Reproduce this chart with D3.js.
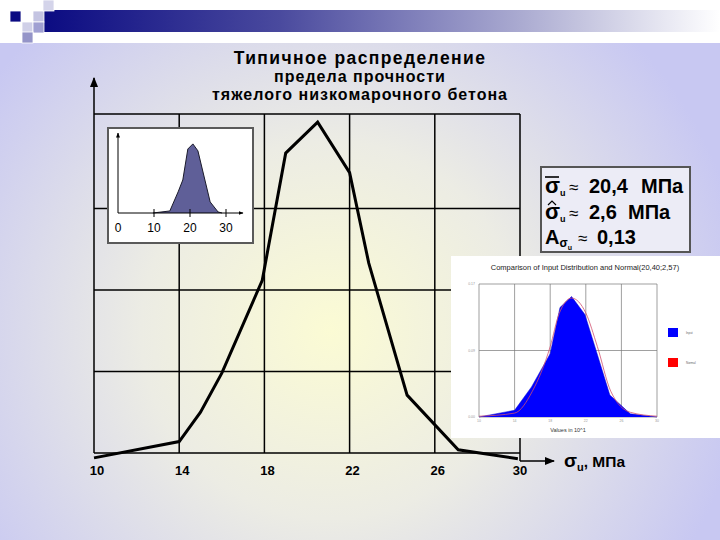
<!DOCTYPE html>
<html><head><meta charset="utf-8">
<script src="https://cdn.jsdelivr.net/npm/d3@7"></script>
<style>html,body{margin:0;padding:0;background:#fff;}svg{display:block;}</style>
</head><body>
<svg id="c" width="720" height="540"></svg>
<script>
// ---- data ----
const titleLines = ["Типичное распределение", "предела прочности", "тяжелого низкомарочного бетона"];
const xTicks = [10, 14, 18, 22, 26, 30];
const yGrid = [0, 1, 2, 3, 4.16];
const mainX = [10, 14, 15, 16, 17.9, 19, 20.5, 22, 22.9, 24.7, 27.1, 29.9];
const mainY = [-0.06, 0.14, 0.5, 0.98, 2.12, 3.68, 4.06, 3.44, 2.33, 0.71, 0.04, -0.07];
const insetTicks = [0, 10, 20, 30];
const insetX = [9.7, 14.4, 16.7, 18, 19.4, 20.8, 22.2, 25.6, 27.8, 28.9];
const insetY = [0, 0.12, 1.24, 1.94, 3.76, 4.06, 3.65, 0.65, 0.06, 0];
const shotTitle = "Comparison of Input Distribution and Normal(20,40;2,57)";
const shotXTicks = ["10", "14", "18", "22", "26", "30"];
const shotYTicks = [0, 0.085, 0.17];
const shotYLabels = ["0.00", "0.09", "0.17"];
const inputX = [10, 14, 15.9, 18, 19.1, 20.4, 21.9, 23.2, 24.7, 27, 30];
const inputY = [0, 0.0086, 0.0385, 0.081, 0.14, 0.154, 0.131, 0.0835, 0.028, 0.004, 0];
const normalX = [10, 14, 16, 18, 19, 20.4, 22, 23.3, 24.8, 27, 30];
const normalY = [0.001, 0.005, 0.033, 0.09, 0.132, 0.152, 0.133, 0.09, 0.033, 0.006, 0.001];
const legendItems = ["Input", "Normal"];
const legendColors = ["#0000ff", "#ff0000"];
const stats = ["20,4", "2,6", "0,13"];

const svg = d3.select("#c");
const defs = svg.append("defs");
const FONT = "Liberation Sans, Arial, sans-serif";

// ---- slide background ----
const rg = defs.append("radialGradient").attr("id", "bg").attr("gradientUnits", "userSpaceOnUse")
  .attr("cx", 330).attr("cy", 330).attr("r", 420);
rg.append("stop").attr("offset", "0").attr("stop-color", "#fbfbd4");
rg.append("stop").attr("offset", "0.45").attr("stop-color", "#ececе4".replace("е","e"));
rg.append("stop").attr("offset", "1").attr("stop-color", "#c8c8f2");
svg.append("rect").attr("x", 0).attr("y", 0).attr("width", 720).attr("height", 540).attr("fill", "#fff");
svg.append("rect").attr("x", 0).attr("y", 43).attr("width", 720).attr("height", 497).attr("fill", "url(#bg)");

const lg = defs.append("linearGradient").attr("id", "bar").attr("x1", 0).attr("x2", 1).attr("y1", 0).attr("y2", 0);
lg.append("stop").attr("offset", "0").attr("stop-color", "#0b0b82");
lg.append("stop").attr("offset", "0.35").attr("stop-color", "#4a4a9e");
lg.append("stop").attr("offset", "0.7").attr("stop-color", "#a9a9d0");
lg.append("stop").attr("offset", "1").attr("stop-color", "#ffffff");
svg.append("rect").attr("x", 43).attr("y", 10).attr("width", 677).attr("height", 22).attr("fill", "url(#bar)");
const squares = [
  {x: 10, y: 11, c: "#0b0b82"}, {x: 33, y: 11, c: "#c4c4e2"}, {x: 43, y: 0, c: "#d4d4ea"},
  {x: 22, y: 22, c: "#d0d0e8"}, {x: 33, y: 22, c: "#a0a0d2"}, {x: 22, y: 32, c: "#9494c8"}
];
svg.selectAll("rect.sq").data(squares).enter().append("rect").attr("class", "sq")
  .attr("x", d => d.x).attr("y", d => d.y).attr("width", 11).attr("height", 11)
  .attr("fill", d => d.c).attr("stroke", "#ffffff").attr("stroke-width", 0.8);

// ---- title ----
const tsz = [17.5, 16, 16], ty = [64, 82, 100], tls = [1.4, 1, 1];
svg.selectAll("text.title").data(titleLines).enter().append("text").attr("class", "title")
  .attr("x", 360).attr("y", (d, i) => ty[i]).attr("text-anchor", "middle")
  .attr("font-family", FONT).attr("font-weight", "bold").attr("font-size", (d, i) => tsz[i])
  .attr("letter-spacing", (d, i) => tls[i])
  .attr("fill", "#000").text(d => d);

// ---- main chart ----
const x = d3.scaleLinear().domain([10, 30]).range([94, 520]);
const y = d3.scaleLinear().domain([0, 4.16]).range([453, 114]);

defs.append("marker").attr("id", "arr").attr("viewBox", "0 0 10 10").attr("refX", 9).attr("refY", 5)
  .attr("markerWidth", 7).attr("markerHeight", 7).attr("orient", "auto-start-reverse")
  .append("path").attr("d", "M0,1 L10,5 L0,9 z").attr("fill", "#000");

const g = svg.append("g");
g.selectAll("line.vg").data(xTicks).enter().append("line").attr("class", "vg")
  .attr("x1", d => x(d)).attr("x2", d => x(d)).attr("y1", y(4.16)).attr("y2", y(0))
  .attr("stroke", "#000").attr("stroke-width", 1.5);
g.selectAll("line.hg").data(yGrid).enter().append("line").attr("class", "hg")
  .attr("x1", x(10)).attr("x2", x(30)).attr("y1", d => y(d)).attr("y2", d => y(d))
  .attr("stroke", "#000").attr("stroke-width", 1.5);
g.append("line").attr("x1", x(10)).attr("x2", x(10)).attr("y1", y(4.16)).attr("y2", 78)
  .attr("stroke", "#000").attr("stroke-width", 1.5).attr("marker-end", "url(#arr)");
g.append("line").attr("x1", x(30)).attr("x2", x(30)).attr("y1", y(0)).attr("y2", 461)
  .attr("stroke", "#000").attr("stroke-width", 1.5);
g.append("line").attr("x1", x(30)).attr("x2", 554).attr("y1", 461).attr("y2", 461)
  .attr("stroke", "#000").attr("stroke-width", 1.5).attr("marker-end", "url(#arr)");

g.selectAll("text.xl").data(xTicks).enter().append("text").attr("class", "xl")
  .attr("x", (d, i) => x(d) + (i === xTicks.length - 1 ? 0 : 3)).attr("y", 475).attr("text-anchor", "middle")
  .attr("font-family", FONT).attr("font-weight", "bold").attr("font-size", 13).text(d => d);

const mainPts = mainX.map((v, i) => [v, mainY[i]]);
g.append("path").datum(mainPts)
  .attr("d", d3.line().x(d => x(d[0])).y(d => y(d[1])))
  .attr("fill", "none").attr("stroke", "#000").attr("stroke-width", 3).attr("stroke-linejoin", "miter");

const al = svg.append("text").attr("x", 564).attr("y", 467).attr("font-family", FONT).attr("font-weight", "bold");
al.append("tspan").attr("font-size", 19).text("σ");
al.append("tspan").attr("font-size", 11).attr("dy", 4).text("u");
al.append("tspan").attr("font-size", 15.5).attr("dy", -4).text(", МПа");

// ---- inset 1 ----
const ix = d3.scaleLinear().domain([0, 30]).range([118, 226]);
const iy = d3.scaleLinear().domain([0, 4.7]).range([213, 133]);
svg.append("rect").attr("x", 108).attr("y", 128).attr("width", 145).attr("height", 115)
  .attr("fill", "#fff").attr("stroke", "#5a5a5a").attr("stroke-width", 2);
defs.append("marker").attr("id", "arr2").attr("viewBox", "0 0 10 10").attr("refX", 9).attr("refY", 5)
  .attr("markerWidth", 5).attr("markerHeight", 5).attr("orient", "auto")
  .append("path").attr("d", "M0,1 L10,5 L0,9 z").attr("fill", "#000");
const inPts = insetX.map((v, i) => [v, insetY[i]]);
svg.append("path").datum(inPts)
  .attr("d", d3.line().x(d => ix(d[0])).y(d => iy(d[1])))
  .attr("fill", "#5f5f98").attr("stroke", "#1a1a2a").attr("stroke-width", 1);
svg.append("line").attr("x1", ix(0)).attr("x2", ix(0)).attr("y1", iy(0)).attr("y2", 133)
  .attr("stroke", "#000").attr("stroke-width", 1).attr("marker-end", "url(#arr2)");
svg.append("line").attr("x1", ix(0)).attr("x2", 243).attr("y1", iy(0)).attr("y2", iy(0))
  .attr("stroke", "#000").attr("stroke-width", 1).attr("marker-end", "url(#arr2)");
svg.selectAll("line.it").data(insetTicks.slice(1)).enter().append("line").attr("class", "it")
  .attr("x1", d => ix(d)).attr("x2", d => ix(d)).attr("y1", iy(0) - 4).attr("y2", iy(0) + 4)
  .attr("stroke", "#000").attr("stroke-width", 1);
svg.selectAll("text.il").data(insetTicks).enter().append("text").attr("class", "il")
  .attr("x", d => ix(d)).attr("y", 232).attr("text-anchor", "middle")
  .attr("font-family", FONT).attr("font-size", 12).text(d => d);

// ---- stats box ----
svg.append("rect").attr("x", 541).attr("y", 167).attr("width", 149).attr("height", 85)
  .attr("fill", "#ececf6").attr("stroke", "#555").attr("stroke-width", 2);
const rowY = [193, 219, 244];
const sg = svg.append("g").attr("font-family", FONT).attr("font-weight", "bold");
function sigmaRow(row, val, mx) {
  const yy = rowY[row];
  const t = sg.append("text").attr("x", 545).attr("y", yy);
  t.append("tspan").attr("font-size", 22).text("σ");
  t.append("tspan").attr("font-size", 9).attr("dy", 3).text("u");
  sg.append("text").attr("x", 569).attr("y", yy).attr("font-size", 17).attr("font-weight", "normal").text("≈");
  sg.append("text").attr("x", 589).attr("y", yy).attr("font-size", 20).text(val);
  sg.append("text").attr("x", mx).attr("y", yy).attr("font-size", 20).text("МПа");
}
sigmaRow(0, stats[0], 641);
sg.append("line").attr("x1", 545).attr("x2", 559).attr("y1", rowY[0] - 16).attr("y2", rowY[0] - 16)
  .attr("stroke", "#000").attr("stroke-width", 1.6);
sigmaRow(1, stats[1], 628);
sg.append("path").attr("d", `M548,${rowY[1] - 14} L552,${rowY[1] - 18} L556,${rowY[1] - 14}`)
  .attr("fill", "none").attr("stroke", "#000").attr("stroke-width", 1.2);
const t3 = sg.append("text").attr("x", 545).attr("y", rowY[2]);
t3.append("tspan").attr("font-size", 20).text("A");
t3.append("tspan").attr("font-size", 12).attr("dy", 3).text("σ");
t3.append("tspan").attr("font-size", 7).attr("dy", 3).text("u");
sg.append("text").attr("x", 578).attr("y", rowY[2]).attr("font-size", 17).attr("font-weight", "normal").text("≈");
sg.append("text").attr("x", 597).attr("y", rowY[2]).attr("font-size", 20).text(stats[2]);

// ---- screenshot inset ----
const sxs = d3.scaleLinear().domain([10, 30]).range([479, 657]);
const sys = d3.scaleLinear().domain([0, 0.17]).range([417, 284]);
const sh = svg.append("g");
sh.append("rect").attr("x", 451).attr("y", 256).attr("width", 269).attr("height", 182).attr("fill", "#fff");
sh.append("text").attr("x", 585).attr("y", 270).attr("text-anchor", "middle")
  .attr("font-family", FONT).attr("font-size", 7.5).attr("fill", "#222").text(shotTitle);
sh.selectAll("line.sv").data(d3.range(10, 31, 4)).enter().append("line").attr("class", "sv")
  .attr("x1", d => sxs(d)).attr("x2", d => sxs(d)).attr("y1", sys(0.17)).attr("y2", sys(0))
  .attr("stroke", "#777").attr("stroke-width", 0.7);
sh.selectAll("line.sh").data(shotYTicks).enter().append("line").attr("class", "sh")
  .attr("x1", sxs(10)).attr("x2", sxs(30)).attr("y1", d => sys(d)).attr("y2", d => sys(d))
  .attr("stroke", "#777").attr("stroke-width", 0.7);
const inputPts = inputX.map((v, i) => [v, inputY[i]]);
sh.append("path").datum(inputPts)
  .attr("d", d3.line().x(d => sxs(d[0])).y(d => sys(d[1])))
  .attr("fill", "#0000ff").attr("stroke", "#0000cc").attr("stroke-width", 0.5);
const normPts = normalX.map((v, i) => [v, normalY[i]]);
sh.append("path").datum(normPts)
  .attr("d", d3.line().curve(d3.curveMonotoneX).x(d => sxs(d[0])).y(d => sys(d[1])))
  .attr("fill", "none").attr("stroke", "#d05070").attr("stroke-width", 0.8);
sh.selectAll("text.sxl").data(shotXTicks).enter().append("text").attr("class", "sxl")
  .attr("x", (d, i) => sxs(10 + 4 * i)).attr("y", 422).attr("text-anchor", "middle")
  .attr("font-family", FONT).attr("font-size", 3.5).attr("fill", "#999").text(d => d);
sh.selectAll("text.syl").data(shotYLabels).enter().append("text").attr("class", "syl")
  .attr("x", 475).attr("y", (d, i) => sys(shotYTicks[i]) + 1).attr("text-anchor", "end")
  .attr("font-family", FONT).attr("font-size", 3.5).attr("fill", "#999").text(d => d);
sh.append("text").attr("x", 568).attr("y", 432).attr("text-anchor", "middle")
  .attr("font-family", FONT).attr("font-size", 5.5).attr("fill", "#333").text("Values in 10^1");
sh.selectAll("rect.lg").data(legendItems).enter().append("rect").attr("class", "lg")
  .attr("x", 668).attr("y", (d, i) => 328 + i * 30).attr("width", 10).attr("height", 9)
  .attr("fill", (d, i) => legendColors[i]);
sh.selectAll("text.lgt").data(legendItems).enter().append("text").attr("class", "lgt")
  .attr("x", 686).attr("y", (d, i) => 334 + i * 30)
  .attr("font-family", FONT).attr("font-size", 3).attr("fill", "#666").text(d => d);
</script>
</body></html>
